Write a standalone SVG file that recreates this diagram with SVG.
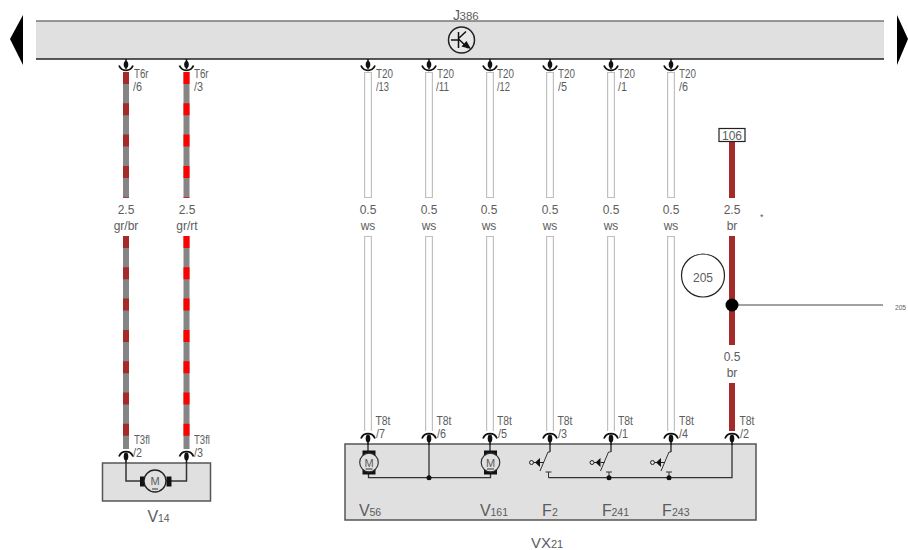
<svg xmlns="http://www.w3.org/2000/svg" xmlns:xlink="http://www.w3.org/1999/xlink" width="908" height="550" viewBox="0 0 908 550">
<style>
text{font-family:"Liberation Sans",Arial,sans-serif;fill:#5a5a5a;font-size:12px;opacity:.98}
.c{text-anchor:middle}
.big{font-size:16px}
.sub{font-size:10.500px}
.box{fill:#e0e0e0;stroke:#555;stroke-width:1.500}
.blk{fill:none;stroke:#333;stroke-width:1.300}
.gr{stroke:#858585;stroke-width:6;fill:none}
.rb{stroke:#a52a2a;stroke-width:6;fill:none;stroke-dasharray:12 19.300}
.rd{stroke:#ff0000;stroke-width:6;fill:none;stroke-dasharray:12 19.300}
.br{stroke:#a52a2a;stroke-width:6;fill:none}
.ws{stroke:#c0c0c0;stroke-width:8;fill:none}
.wi{stroke:#fff;stroke-width:5.600;fill:none}
</style>
<defs>
<g id="top"><path d="M-7 6.500A7.500 7.500 0 0 0 7 6.500" fill="none" stroke="#111" stroke-width="1.800"/><path d="M0 0V10" stroke="#111" stroke-width="1.500"/><ellipse cx="0" cy="5.500" rx="2.300" ry="3.500" fill="#111"/></g>
<g id="bot"><path d="M-7 7.500A7.500 7.500 0 0 1 7 7.500" fill="none" stroke="#111" stroke-width="1.800"/><ellipse cx="0" cy="7.500" rx="2.300" ry="4" fill="#111"/><path d="M0 4V14" stroke="#111" stroke-width="1.500"/></g>
<g id="motor"><rect x="-6.500" y="-12" width="13" height="24" fill="#111"/><circle r="9.300" fill="#e0e0e0" stroke="#333" stroke-width="1.200"/><text class="c" y="4" style="font-size:11px">M</text><path d="M-3.500 6.500H3.500" stroke="#333"/></g>
<g id="sw"><circle cx="-16.500" cy="0" r="2" fill="#e0e0e0" stroke="#222"/><path d="M-14.500 0H-9" stroke="#222"/><path d="M-13 0L-8 -4.500V4.500Z" fill="#111"/><path d="M-8 8.500L0 -10.500H2" fill="none" stroke="#333"/><path d="M-8 0H-4" stroke="#222"/></g>
</defs>
<g id="arrows"><path d="M23 15L10 39L23 65Z" fill="#000"/><path d="M897 15L908 39L897 65Z" fill="#000"/></g>
<g id="J386">
<rect x="36" y="21" width="848" height="38" fill="#e0e0e0"/>
<path d="M36 21H884" stroke="#777" stroke-width="1.500"/><path d="M36 59H884" stroke="#222" stroke-width="1.500"/>
<circle cx="461.500" cy="40" r="13" fill="#e8e8e8" stroke="#222" stroke-width="1.500"/>
<path d="M458.500 32V48M451 40H458.500M458.500 38.500L466 31.500M458.500 39L468 48" fill="none" stroke="#111" stroke-width="1.500"/><path d="M471 49L461.500 46.500L466.500 41Z" fill="#111"/>
<text x="453" y="20" style="font-size:14px">J</text><text x="459.500" y="20" style="font-size:11.500px">386</text>
</g>
<g id="connectors">
<path class="gr" d="M126 72V198M126 236V449M186.500 72V198M186.500 236V449"/>
<path class="rb" d="M126 72V198M126 236V449"/>
<path class="rd" d="M186.500 72V198M186.500 236V449"/>
<path class="ws" d="M368 72V198M368 236V431M429 72V198M429 236V431M490 72V198M490 236V431M550 72V198M550 236V431M611 72V198M611 236V431M671 72V198M671 236V431"/>
<path class="wi" d="M368 73V197M368 237V432M429 73V197M429 237V432M490 73V197M490 237V432M550 73V197M550 237V432M611 73V197M611 237V432M671 73V197M671 237V432"/>
<path class="br" d="M732 141V198M732 236V345M732 383V431"/>
<path d="M732 305H883" stroke="#444" stroke-width="1"/>
<circle cx="732" cy="305" r="6.500" fill="#000"/>
</g>
<g id="terminals">
<use xlink:href="#top" x="126" y="59"/><use xlink:href="#top" x="186.500" y="59"/>
<use xlink:href="#top" x="368" y="59"/><use xlink:href="#top" x="429" y="59"/><use xlink:href="#top" x="490" y="59"/><use xlink:href="#top" x="550" y="59"/><use xlink:href="#top" x="611" y="59"/><use xlink:href="#top" x="671" y="59"/>
</g>
<g id="V14">
<rect class="box" x="102.500" y="463" width="108" height="38"/>
<path class="blk" d="M126 463V481H186.500V463" style="stroke-width:1.500"/>
<rect x="140" y="476.500" width="5" height="10" fill="#111"/><rect x="166.500" y="476.500" width="5" height="10" fill="#111"/>
<circle cx="155" cy="481" r="11" fill="#e0e0e0" stroke="#222" stroke-width="1.300"/>
<text x="155" y="485" class="c" style="font-size:11px">M</text><path d="M152 489H158" stroke="#333"/>
<use xlink:href="#bot" x="126" y="449"/><use xlink:href="#bot" x="186.500" y="449"/>
<text x="147.500" y="522" class="big">V</text><text x="158" y="522" class="sub">14</text>
</g>
<g id="VX21">
<rect class="box" x="345" y="444" width="411" height="76"/>
<path class="blk" d="M368.500 470V477.700H490.500V470M429 444V477.700M548.500 477.700H732V444"/>
<path d="M548.500 477.700V472M545.500 472H551.500M609 477.700V472M606 472H612M669 477.700V472M666 472H672" stroke="#333"/>
<circle cx="429" cy="477.700" r="2.500" fill="#111"/><circle cx="609" cy="477.700" r="2.500" fill="#111"/><circle cx="669" cy="477.700" r="2.500" fill="#111"/>
<use xlink:href="#bot" x="368" y="431"/><use xlink:href="#bot" x="429" y="431"/><use xlink:href="#bot" x="490" y="431"/><use xlink:href="#bot" x="550" y="431"/><use xlink:href="#bot" x="611" y="431"/><use xlink:href="#bot" x="671" y="431"/><use xlink:href="#bot" x="732" y="431"/>
<path d="M368 444V452M490 444V452M550 444V452M611 444V452M671 444V452" stroke="#222" stroke-width="1.300"/>
<use xlink:href="#motor" x="369" y="462.500"/><use xlink:href="#motor" x="490.500" y="462.500"/>
<use xlink:href="#sw" x="548" y="462.500"/><use xlink:href="#sw" x="608.500" y="462.500"/><use xlink:href="#sw" x="669" y="462.500"/>
<text x="359" y="516" class="big">V</text><text x="369.500" y="516" class="sub">56</text>
<text x="480" y="516" class="big">V</text><text x="490.500" y="516" class="sub">161</text>
<text x="542" y="516" class="big">F</text><text x="552" y="516" class="sub">2</text>
<text x="602" y="516" class="big">F</text><text x="611.500" y="516" class="sub">241</text>
<text x="662" y="516" class="big">F</text><text x="672" y="516" class="sub">243</text>
<text x="531" y="547.500" style="font-size:15px">VX</text><text x="551" y="547.500" style="font-size:11px">21</text>
</g>
<g id="labels">
<text x="134" y="78" textLength="14.500" lengthAdjust="spacingAndGlyphs">T6r</text><text x="133" y="90.700" textLength="9" lengthAdjust="spacingAndGlyphs">/6</text>
<text x="194" y="78" textLength="14.500" lengthAdjust="spacingAndGlyphs">T6r</text><text x="194" y="90.700" textLength="9" lengthAdjust="spacingAndGlyphs">/3</text>
<text x="376" y="78" textLength="17" lengthAdjust="spacingAndGlyphs">T20</text><text x="376" y="90.500" textLength="13" lengthAdjust="spacingAndGlyphs">/13</text>
<text x="437" y="78" textLength="17" lengthAdjust="spacingAndGlyphs">T20</text><text x="436" y="90.500" textLength="13" lengthAdjust="spacingAndGlyphs">/11</text>
<text x="497" y="78" textLength="17" lengthAdjust="spacingAndGlyphs">T20</text><text x="497" y="90.500" textLength="13" lengthAdjust="spacingAndGlyphs">/12</text>
<text x="558" y="78" textLength="17" lengthAdjust="spacingAndGlyphs">T20</text><text x="558" y="90.500" textLength="9" lengthAdjust="spacingAndGlyphs">/5</text>
<text x="618" y="78" textLength="17" lengthAdjust="spacingAndGlyphs">T20</text><text x="618" y="90.500" textLength="9" lengthAdjust="spacingAndGlyphs">/1</text>
<text x="679" y="78" textLength="17" lengthAdjust="spacingAndGlyphs">T20</text><text x="679" y="90.500" textLength="9" lengthAdjust="spacingAndGlyphs">/6</text>
<text x="134" y="443.500" textLength="16" lengthAdjust="spacingAndGlyphs">T3fl</text><text x="133" y="457" textLength="9" lengthAdjust="spacingAndGlyphs">/2</text>
<text x="194" y="443.500" textLength="16" lengthAdjust="spacingAndGlyphs">T3fl</text><text x="194" y="457" textLength="9" lengthAdjust="spacingAndGlyphs">/3</text>
<text x="375.500" y="425" textLength="15" lengthAdjust="spacingAndGlyphs">T8t</text><text x="376" y="437.500" textLength="9" lengthAdjust="spacingAndGlyphs">/7</text>
<text x="436.500" y="425" textLength="15" lengthAdjust="spacingAndGlyphs">T8t</text><text x="437" y="437.500" textLength="9" lengthAdjust="spacingAndGlyphs">/6</text>
<text x="497" y="425" textLength="15" lengthAdjust="spacingAndGlyphs">T8t</text><text x="498" y="437.500" textLength="9" lengthAdjust="spacingAndGlyphs">/5</text>
<text x="557.500" y="425" textLength="15" lengthAdjust="spacingAndGlyphs">T8t</text><text x="558" y="437.500" textLength="9" lengthAdjust="spacingAndGlyphs">/3</text>
<text x="618" y="425" textLength="15" lengthAdjust="spacingAndGlyphs">T8t</text><text x="619" y="437.500" textLength="9" lengthAdjust="spacingAndGlyphs">/1</text>
<text x="679" y="425" textLength="15" lengthAdjust="spacingAndGlyphs">T8t</text><text x="679" y="437.500" textLength="9" lengthAdjust="spacingAndGlyphs">/4</text>
<text x="739.500" y="425" textLength="15" lengthAdjust="spacingAndGlyphs">T8t</text><text x="740" y="437.500" textLength="9" lengthAdjust="spacingAndGlyphs">/2</text>
<text x="126" y="213.500" class="c">2.5</text><text x="126" y="229.500" class="c">gr/br</text>
<text x="187" y="213.500" class="c">2.5</text><text x="187" y="229.500" class="c">gr/rt</text>
<text x="368" y="213.500" class="c">0.5</text><text x="368" y="229.500" class="c">ws</text>
<text x="429" y="213.500" class="c">0.5</text><text x="429" y="229.500" class="c">ws</text>
<text x="489" y="213.500" class="c">0.5</text><text x="489" y="229.500" class="c">ws</text>
<text x="550" y="213.500" class="c">0.5</text><text x="550" y="229.500" class="c">ws</text>
<text x="611" y="213.500" class="c">0.5</text><text x="611" y="229.500" class="c">ws</text>
<text x="671" y="213.500" class="c">0.5</text><text x="671" y="229.500" class="c">ws</text>
<text x="732" y="213.500" class="c">2.5</text><text x="732" y="229.500" class="c">br</text>
<text x="732" y="361" class="c">0.5</text><text x="732" y="377" class="c">br</text>
<text x="760" y="220" style="font-size:9px">*</text>
<text x="895" y="310" style="font-size:7.500px" textLength="11" lengthAdjust="spacingAndGlyphs">205</text>
</g>
<g id="ref106"><rect x="719" y="128.500" width="26" height="13" fill="#fff" stroke="#222" stroke-width="1.200"/><text x="732" y="139.500" class="c">106</text></g>
<g id="ref205"><circle cx="703" cy="275.500" r="21.500" fill="#fff" stroke="#222" stroke-width="1.200"/><text x="703" y="282" class="c">205</text></g>
</svg>
